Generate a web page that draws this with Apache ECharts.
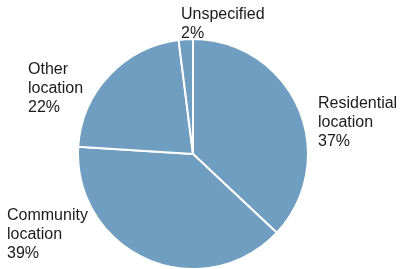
<!DOCTYPE html>
<html>
<head>
<meta charset="utf-8">
<script src="https://cdn.jsdelivr.net/npm/echarts@6/dist/echarts.min.js"></script>
<style>
    html, body { margin: 0; padding: 0; background: #fff; }
    #chartPie { width: 400px; height: 269px; }
</style>
</head>
<body>
<div id="chartPie"></div>
<script>
// slices, clockwise from 12 o'clock
const categories = ["Residential\nlocation", "Community\nlocation", "Other\nlocation", "Unspecified"];
const shares = [37, 39, 22, 2];

// where each label block sits (top-left corner)
const labelSpots = [
    [318, 94],
    [7, 206],
    [28, 60],
    [181, 5]
];

const chartPie = echarts.init(document.getElementById("chartPie"));
chartPie.setOption({
    animation: false,
    color: ["#6f9ec0"],
    series: [
        {
            type: "pie",
            center: [193, 154],
            radius: 115,
            startAngle: 90,
            clockwise: true,
            data: categories.map((name, i) => ({ name: name, value: shares[i] })),
            itemStyle: {
                borderColor: "#fff",
                borderWidth: 2
            },
            label: {
                show: true,
                position: "outside",
                formatter: "{b}\n{c}%",
                fontFamily: "Liberation Sans, Arial, sans-serif",
                fontSize: 16,
                lineHeight: 19,
                color: "#1a1a1a",
                overflow: "none",
                width: 120
            },
            labelLine: { show: false },
            labelLayout: params => ({
                x: labelSpots[params.dataIndex][0],
                y: labelSpots[params.dataIndex][1],
                align: "left",
                verticalAlign: "top"
            })
        }
    ]
});
</script>
</body>
</html>
